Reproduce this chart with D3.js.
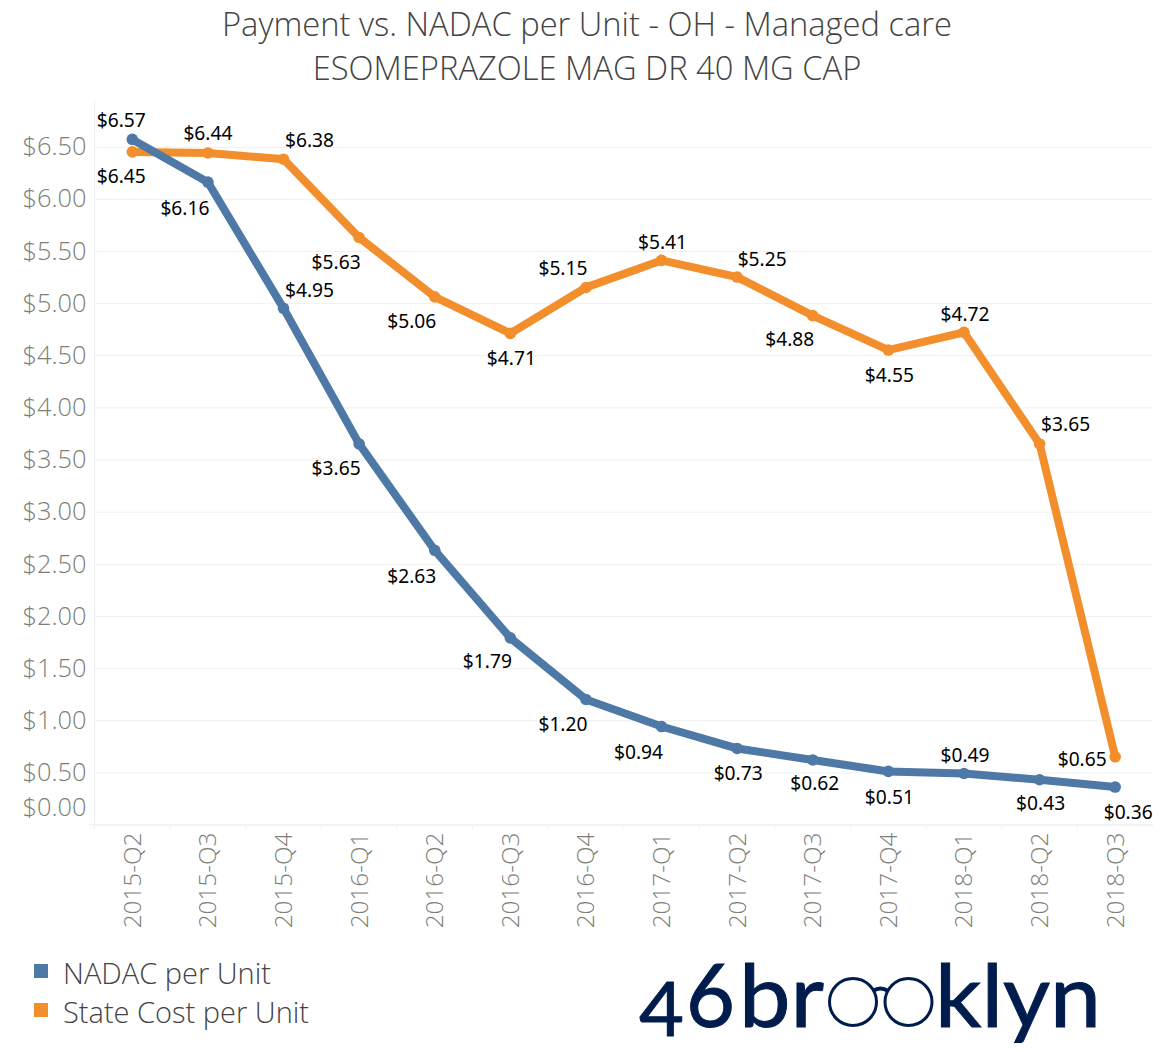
<!DOCTYPE html>
<html>

<head>
    <meta charset="utf-8">
    <title>Payment vs. NADAC per Unit</title>
    <style media="screen" type="text/css">
        body { margin: 0; background: #fff; }
        svg { display: block; }
        .domain { display: none; }
        .title { font-family: "Open Sans"; font-size: 32.7px; fill: #444; text-anchor: middle; font-weight: 300; }
        .val { font-family: "Noto Sans"; font-size: 19.2px; fill: #000; text-anchor: middle; dominant-baseline: central; }
        .y-axis text, .x-axis text { font-family: "Open Sans"; font-size: 25.4px; fill: #7c7f78; font-weight: 300; }
        .x-axis text { font-size: 24.3px; }
        .legend { font-family: "Open Sans"; font-size: 29px; fill: #444; font-weight: 300; }
        .logo { font-family: "Lato"; font-size: 87px; fill: #001c4d; stroke: #001c4d; stroke-width: 1px; }
    </style>
</head>

<body>
    <script src="https://cdnjs.cloudflare.com/ajax/libs/d3/7.8.5/d3.min.js"></script>

    <script type="text/javascript">
        var quarters = ["2015-Q2", "2015-Q3", "2015-Q4", "2016-Q1", "2016-Q2", "2016-Q3", "2016-Q4",
            "2017-Q1", "2017-Q2", "2017-Q3", "2017-Q4", "2018-Q1", "2018-Q2", "2018-Q3"];
        var nadacValues = [6.57, 6.16, 4.95, 3.65, 2.63, 1.79, 1.20, 0.94, 0.73, 0.62, 0.51, 0.49, 0.43, 0.36];
        var stateValues = [6.45, 6.44, 6.38, 5.63, 5.06, 4.71, 5.15, 5.41, 5.25, 4.88, 4.55, 4.72, 3.65, 0.65];
        var yTicks = [0, 0.5, 1, 1.5, 2, 2.5, 3, 3.5, 4, 4.5, 5, 5.5, 6, 6.5];
        var titleLines = ["Payment vs. NADAC per Unit - OH - Managed care", "ESOMEPRAZOLE MAG DR 40 MG CAP"];

        // where each value label sits relative to its point
        var nadacLabelOffsets = [[-11, -20], [-23, 25], [26, -19], [-23, 24], [-23, 25], [-23, 23], [-23, 24],
            [-23, 25], [1, 24], [2, 23], [1, 25], [1, -19], [1, 23], [13, 24]];
        var stateLabelOffsets = [[-11, 24], [0, -20], [26, -20], [-23, 24], [-23, 24], [1, 24], [-23, -20],
            [1, -19], [25, -19], [-23, 23], [1, 24], [1, -19], [26, -20], [-33, 2]];

        var BLUE = "#4e79a7", ORANGE = "#f28e2b", GRID = "#f0f0f0", NAVY = "#001c4d";

        var svg = d3.select("body").append("svg").attr("width", 1162).attr("height", 1052);

        var x = d3.scaleBand().domain(quarters).range([94.5, 1153]);
        var y = d3.scaleLinear().domain([0, 6.5]).range([824.6, 146.7]);
        var cx = function(d) { return x(d) + x.bandwidth() / 2; };

        svg.selectAll("text.title").data(titleLines).enter().append("text")
            .attr("class", "title")
            .attr("x", 587)
            .attr("y", function(d, i) { return 36 + i * 44; })
            .text(function(d) { return d; });

        // gridlines + y labels
        var yAxis = svg.append("g").attr("class", "y-axis")
            .attr("transform", "translate(94.5,0)")
            .call(d3.axisLeft(y).tickValues(yTicks).tickSize(0).tickPadding(8).tickFormat(d3.format("$.2f")));
        yAxis.selectAll(".tick line")
            .attr("x2", 1058.5)
            .attr("stroke", GRID);
        // the zero label gets pushed up above the baseline
        yAxis.selectAll(".tick text")
            .attr("dy", function(d) { return d === 0 ? "-0.36em" : "0.32em"; });

        svg.append("line").attr("x1", 94.5).attr("x2", 94.5).attr("y1", 100).attr("y2", 825).attr("stroke", GRID);
        svg.append("line").attr("x1", 89).attr("x2", 1153).attr("y1", 824.6).attr("y2", 824.6).attr("stroke", GRID);

        // x labels, ticks fall between the bands
        var xAxis = svg.append("g").attr("class", "x-axis")
            .attr("transform", "translate(0,824.6)")
            .call(d3.axisBottom(x).tickSize(0));
        xAxis.selectAll(".tick text")
            .attr("transform", "rotate(-90)")
            .attr("text-anchor", "end")
            .attr("x", -8)
            .attr("y", 0)
            .attr("dy", "0.35em");
        svg.selectAll("line.sep").data(quarters).enter().append("line")
            .attr("class", "sep")
            .attr("x1", function(d) { return x(d); })
            .attr("x2", function(d) { return x(d); })
            .attr("y1", 824.6)
            .attr("y2", 829)
            .attr("stroke", GRID);

        var line = d3.line()
            .x(function(d, i) { return cx(quarters[i]); })
            .y(function(d) { return y(d); });

        function drawSeries(values, color) {
            svg.append("path")
                .attr("d", line(values))
                .attr("fill", "none")
                .attr("stroke", color)
                .attr("stroke-width", 8);
            svg.selectAll(null).data(values).enter().append("circle")
                .attr("cx", function(d, i) { return cx(quarters[i]); })
                .attr("cy", function(d) { return y(d); })
                .attr("r", 5.8)
                .attr("fill", color);
        }
        drawSeries(stateValues, ORANGE);
        drawSeries(nadacValues, BLUE);

        function drawLabels(values, offsets) {
            svg.selectAll(null).data(values).enter().append("text")
                .attr("class", "val")
                .attr("x", function(d, i) { return cx(quarters[i]) + offsets[i][0]; })
                .attr("y", function(d, i) { return y(d) + offsets[i][1]; })
                .text(d3.format("$.2f"));
        }
        drawLabels(nadacValues, nadacLabelOffsets);
        drawLabels(stateValues, stateLabelOffsets);

        // legend
        var legend = [["NADAC per Unit", BLUE], ["State Cost per Unit", ORANGE]];
        svg.selectAll("rect.key").data(legend).enter().append("rect")
            .attr("class", "key")
            .attr("x", 34)
            .attr("y", function(d, i) { return 964 + i * 39; })
            .attr("width", 14)
            .attr("height", 14)
            .attr("fill", function(d) { return d[1]; });
        svg.selectAll("text.legend").data(legend).enter().append("text")
            .attr("class", "legend")
            .attr("x", 63)
            .attr("y", function(d, i) { return 984 + i * 39; })
            .text(function(d) { return d[0]; });

        // logo, the 4 hangs below the baseline and the oo is a pair of glasses
        svg.append("text").attr("class", "logo").attr("x", 639).attr("y", 1036)
            .style("font-size", "75px")
            .attr("textLength", 45).attr("lengthAdjust", "spacingAndGlyphs").text("4");
        svg.append("text").attr("class", "logo").attr("x", 686).attr("y", 1027)
            .attr("textLength", 49).attr("lengthAdjust", "spacingAndGlyphs").text("6");
        svg.append("text").attr("class", "logo").attr("x", 739).attr("y", 1027)
            .attr("textLength", 85).attr("lengthAdjust", "spacingAndGlyphs").text("br");
        svg.append("text").attr("class", "logo").attr("x", 935).attr("y", 1027)
            .attr("textLength", 166).attr("lengthAdjust", "spacingAndGlyphs").text("klyn");
        svg.selectAll("circle.lens").data([853, 908.5]).enter().append("circle")
            .attr("class", "lens")
            .attr("cx", function(d) { return d; })
            .attr("cy", 1002)
            .attr("r", 23.5)
            .attr("fill", "none")
            .attr("stroke", NAVY)
            .attr("stroke-width", 3);
        svg.append("path")
            .attr("d", "M873,991Q880.5,986 888,991")
            .attr("fill", "none")
            .attr("stroke", NAVY)
            .attr("stroke-width", 4);
    </script>

</body>

</html>
